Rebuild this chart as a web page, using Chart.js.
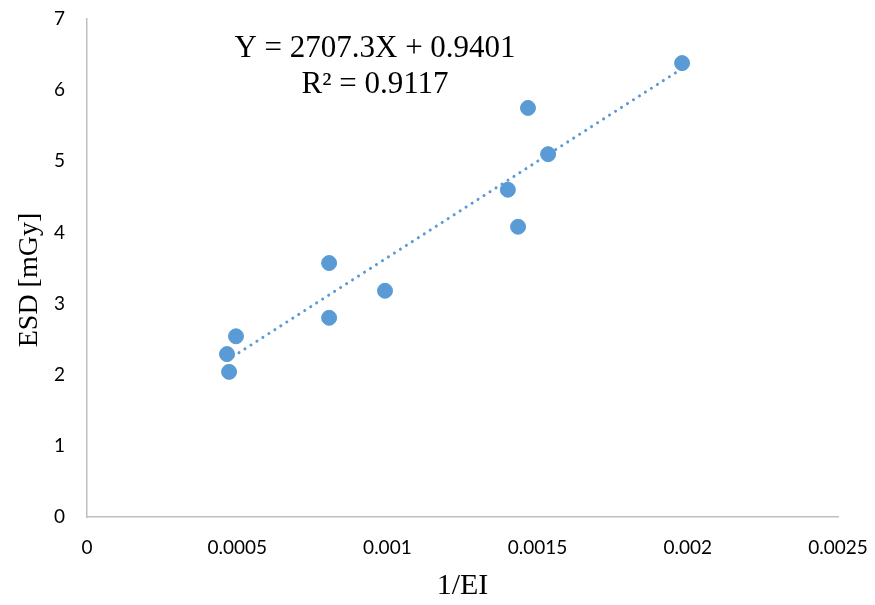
<!DOCTYPE html>
<html>
<head>
<meta charset="utf-8">
<script src="https://cdn.jsdelivr.net/npm/chart.js@4"></script>
<style>
html,body{margin:0;padding:0;background:#fff;}
#wrap{width:875px;height:605px;position:relative;}
</style>
</head>
<body>
<div id="wrap"><canvas id="c" width="875" height="605"></canvas></div>
<script>
const xValues = [0.000466, 0.000473, 0.000496, 0.000806, 0.000806, 0.000992, 0.001401, 0.001435, 0.001468, 0.001535, 0.001981];
const yValues = [2.29, 2.04, 2.54, 3.57, 2.80, 3.18, 4.60, 4.08, 5.75, 5.10, 6.38];
const xTickLabels = ['0', '0.0005', '0.001', '0.0015', '0.002', '0.0025'];
const yTickLabels = ['0', '1', '2', '3', '4', '5', '6', '7'];
const trendSlope = 2707.3;
const trendIntercept = 0.9401;
const equationLines = ['Y = 2707.3X + 0.9401', 'R² = 0.9117'];
const xTitle = '1/EI';
const yTitle = 'ESD [mGy]';

const points = xValues.map((x, i) => ({x: x, y: yValues[i]}));
const xMin = Math.min(...xValues), xMax = Math.max(...xValues);
const trend = [xMin, xMax].map(x => ({x: x, y: trendSlope * x + trendIntercept}));

const blue = '#5B9BD5';
const tickFont = {family: 'Lato, "Open Sans", sans-serif', size: 19};
const serif = '"Liberation Serif", "Times New Roman", serif';

const textPlugin = {
  id: 'texts',
  afterDatasetsDraw(chart) {
    const ctx = chart.ctx;
    const a = chart.chartArea;
    ctx.save();
    ctx.fillStyle = '#000';
    ctx.font = '31px ' + serif;
    ctx.textAlign = 'center';
    ctx.textBaseline = 'alphabetic';
    ctx.fillText(equationLines[0], a.left + 288, a.top + 38);
    ctx.fillText(equationLines[1], a.left + 288, a.top + 74);
    // y axis title
    ctx.font = '28px ' + serif;
    ctx.translate(a.left - 57, (a.top + a.bottom) / 2 + 12);
    ctx.rotate(-Math.PI / 2);
    ctx.textBaseline = 'middle';
    ctx.fillText(yTitle, 0, 0);
    ctx.restore();
  }
};

new Chart(document.getElementById('c'), {
  type: 'scatter',
  data: {
    datasets: [
      {
        data: trend,
        showLine: true,
        borderColor: blue,
        borderWidth: 3,
        borderDash: [0.1, 7],
        borderCapStyle: 'round',
        pointRadius: 0,
        fill: false
      },
      {
        data: points,
        backgroundColor: blue,
        borderColor: blue,
        pointRadius: 7.5,
        pointHoverRadius: 7.5
      }
    ]
  },
  options: {
    responsive: false,
    animation: false,
    events: [],
    layout: {padding: {top: 19, right: 37, bottom: 0, left: 0}},
    plugins: {legend: {display: false}, tooltip: {enabled: false}},
    scales: {
      x: {
        type: 'linear',
        min: 0, max: 0.0025,
        afterFit(s) { s.height = 88; s.paddingLeft = 0; s.paddingRight = 0; },
        afterBuildTicks(s) { s.ticks = xTickLabels.map(v => ({value: parseFloat(v)})); },
        grid: {display: false, drawTicks: false},
        border: {display: true, color: '#BFBFBF', width: 1.5},
        ticks: {
          padding: 19, color: '#000', font: tickFont, maxRotation: 0,
          callback: (v, i) => xTickLabels[i]
        },
        title: {display: true, text: xTitle, color: '#000', font: {family: serif, size: 30}, padding: {top: 0, bottom: 1}}
      },
      y: {
        type: 'linear',
        min: 0, max: 7,
        afterFit(s) { s.width = 87; s.paddingTop = 0; s.paddingBottom = 0; },
        afterBuildTicks(s) { s.ticks = yTickLabels.map(v => ({value: parseFloat(v)})); },
        grid: {display: false, drawTicks: false},
        border: {display: true, color: '#BFBFBF', width: 1.5},
        ticks: {
          padding: 22, color: '#000', font: tickFont,
          callback: (v, i) => yTickLabels[i]
        },
        title: {display: false, text: yTitle}
      }
    }
  },
  plugins: [textPlugin]
});
</script>
</body>
</html>
